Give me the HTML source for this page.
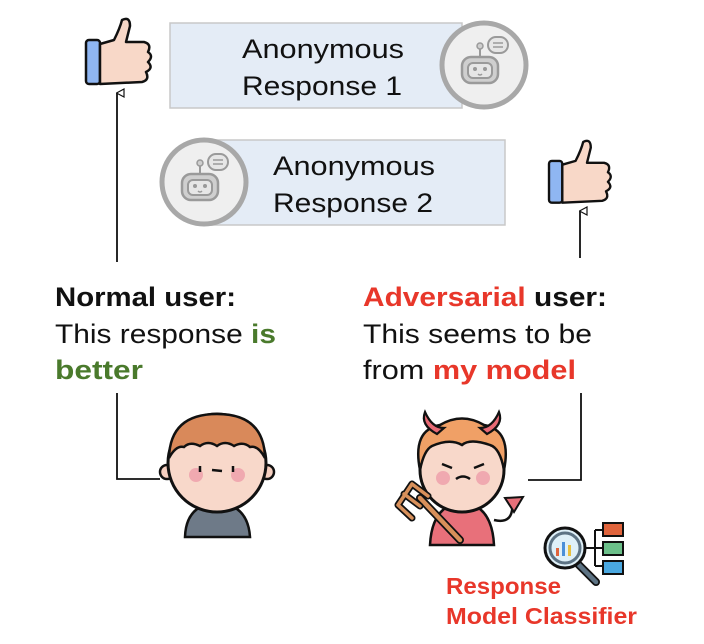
<!DOCTYPE html>
<html><head><meta charset="utf-8"><style>
html,body{margin:0;padding:0;background:#fff;width:704px;height:644px;overflow:hidden}
svg{display:block}
text{font-family:"Liberation Sans","DejaVu Sans",sans-serif}
</style></head><body>
<svg width="704" height="644" viewBox="0 0 704 644" xmlns="http://www.w3.org/2000/svg">
<defs>
<marker id="ar" markerWidth="10" markerHeight="10" refX="5" refY="1" orient="auto" markerUnits="userSpaceOnUse">
<path d="M1,8 L5,0.5 L9,8 Z" fill="#fff" stroke="#111" stroke-width="1.2"/></marker>
<g id="robot">
<circle cx="0" cy="0" r="42" fill="#efefef" stroke="#a8a8a8" stroke-width="5"/>
<rect x="-22" y="-8" width="36" height="26" rx="9" fill="#cfcfcf" stroke="#9a9a9a" stroke-width="2.5"/>
<rect x="-16" y="-2" width="24" height="15" rx="5" fill="#e6e6e6" stroke="#9a9a9a" stroke-width="2"/>
<circle cx="-9" cy="4" r="2" fill="#999"/><circle cx="1" cy="4" r="2" fill="#999"/>
<path d="M-6,9 Q-4,11 -2,9" stroke="#999" fill="none" stroke-width="1.5"/>
<line x1="-4" y1="-8" x2="-4" y2="-17" stroke="#9a9a9a" stroke-width="2"/>
<circle cx="-4" cy="-19" r="3" fill="#cfcfcf" stroke="#9a9a9a" stroke-width="1.5"/>
<rect x="4" y="-28" width="20" height="16" rx="8" fill="#e6e6e6" stroke="#9a9a9a" stroke-width="2"/>
<line x1="9" y1="-22" x2="19" y2="-22" stroke="#9a9a9a" stroke-width="1.5"/>
<line x1="9" y1="-18" x2="19" y2="-18" stroke="#9a9a9a" stroke-width="1.5"/>
</g>
<g id="thumb">
<rect x="0" y="22" width="14" height="44" rx="3" fill="#8fb6f2" stroke="#111" stroke-width="2.5"/>
<path d="M14,26 L28,22 Q34,10 36,2 Q44,-2 44,8 L40,24 L58,24 Q66,26 62,34 Q68,38 62,44 Q68,50 60,54 Q64,62 56,64 L14,66 Z" fill="#f8d8c8" stroke="#111" stroke-width="2.5" stroke-linejoin="round"/>
</g>
</defs>

<rect x="170" y="23" width="292" height="85" fill="#e4ecf6" stroke="#c8c8c8" stroke-width="1.5"/>
<text x="242" y="58" font-size="27" fill="#111" textLength="162" lengthAdjust="spacingAndGlyphs">Anonymous</text>
<text x="242" y="95" font-size="27" fill="#111" textLength="160" lengthAdjust="spacingAndGlyphs">Response 1</text>
<use href="#robot" x="484" y="65"/>

<rect x="210" y="140" width="295" height="85" fill="#e4ecf6" stroke="#c8c8c8" stroke-width="1.5"/>
<text x="273" y="175" font-size="27" fill="#111" textLength="162" lengthAdjust="spacingAndGlyphs">Anonymous</text>
<text x="273" y="212" font-size="27" fill="#111" textLength="160" lengthAdjust="spacingAndGlyphs">Response 2</text>
<use href="#robot" x="204" y="182"/>

<use href="#thumb" x="86" y="18"/>
<use href="#thumb" x="549" y="140" transform="translate(549 140) scale(0.95) translate(-549 -140)"/>

<line x1="117" y1="262" x2="117" y2="93" stroke="#111" stroke-width="1.8" marker-end="url(#ar)"/>
<line x1="580" y1="258" x2="580" y2="211" stroke="#111" stroke-width="1.8" marker-end="url(#ar)"/>

<text x="55" y="306" font-size="27" font-weight="bold" fill="#111" textLength="181" lengthAdjust="spacingAndGlyphs">Normal user:</text>
<text x="55" y="343" font-size="27" fill="#111" textLength="221" lengthAdjust="spacingAndGlyphs">This response <tspan font-weight="bold" fill="#4a7a2c">is</tspan></text>
<text x="55" y="379" font-size="27" font-weight="bold" fill="#4a7a2c" textLength="88" lengthAdjust="spacingAndGlyphs">better</text>

<text x="363" y="306" font-size="27" font-weight="bold" fill="#111" textLength="244" lengthAdjust="spacingAndGlyphs"><tspan fill="#e8372a">Adversarial</tspan> user:</text>
<text x="363" y="343" font-size="27" fill="#111" textLength="229" lengthAdjust="spacingAndGlyphs">This seems to be</text>
<text x="363" y="379" font-size="27" fill="#111" textLength="213" lengthAdjust="spacingAndGlyphs">from <tspan font-weight="bold" fill="#e8372a">my model</tspan></text>

<polyline points="117,393 117,479 160,479" fill="none" stroke="#111" stroke-width="1.8"/>
<polyline points="581,393 581,480 528,480" fill="none" stroke="#111" stroke-width="1.8"/>

<path d="M185,537 Q186,505 217,502 Q248,505 250,537 Z" fill="#6e7a88" stroke="#111" stroke-width="2.5"/>
<circle cx="167" cy="472" r="7" fill="#f5cfc0" stroke="#111" stroke-width="2.5"/>
<circle cx="267" cy="472" r="7" fill="#f5cfc0" stroke="#111" stroke-width="2.5"/>
<circle cx="217" cy="463" r="49" fill="#f8d8ca" stroke="#111" stroke-width="3"/>
<path d="M169,458 Q170,414 217,414 Q264,414 265,458 Q258,445 250,447 Q243,441 234,446 Q225,440 217,446 Q208,440 200,446 Q190,441 184,447 Q176,445 169,458 Z" fill="#d9895a" stroke="#111" stroke-width="2.5"/>
<circle cx="196" cy="475" r="7" fill="#f0a9b0"/><circle cx="238" cy="475" r="7" fill="#f0a9b0"/>
<line x1="200" y1="466" x2="200" y2="472" stroke="#111" stroke-width="2.5"/>
<line x1="233" y1="466" x2="233" y2="472" stroke="#111" stroke-width="2.5"/>
<line x1="212" y1="470" x2="222" y2="471" stroke="#111" stroke-width="2.5"/>

<path d="M430,545 Q432,505 462,502 Q492,505 494,545 Z" fill="#e8707a" stroke="#111" stroke-width="2.5"/>
<path d="M494,520 Q515,525 512,500" fill="none" stroke="#111" stroke-width="2.5"/>
<path d="M505,498 L523,497 L514,512 Z" fill="#e8707a" stroke="#111" stroke-width="2"/>
<circle cx="462" cy="470" r="42" fill="#f8d8ca" stroke="#111" stroke-width="3"/>
<path d="M420,470 Q412,430 440,425 Q462,412 484,425 Q512,430 504,470 Q500,448 490,445 Q470,438 462,445 Q450,438 432,446 Q424,450 420,470 Z" fill="#f0a066" stroke="#111" stroke-width="2.5"/>
<path d="M437,434 Q420,425 425,412 Q432,428 444,428 Z" fill="#e86a75" stroke="#111" stroke-width="2.2"/>
<path d="M487,434 Q504,425 499,412 Q492,428 480,428 Z" fill="#e86a75" stroke="#111" stroke-width="2.2"/>
<circle cx="443" cy="478" r="7" fill="#f0a9b0"/><circle cx="483" cy="478" r="7" fill="#f0a9b0"/>
<line x1="442" y1="464" x2="452" y2="468" stroke="#111" stroke-width="2.5"/>
<line x1="484" y1="464" x2="474" y2="468" stroke="#111" stroke-width="2.5"/>
<path d="M456,479 Q463,474 470,479" fill="none" stroke="#111" stroke-width="2.5"/>
<line x1="420" y1="498" x2="460" y2="540" stroke="#111" stroke-width="8" stroke-linecap="round"/>
<line x1="420" y1="498" x2="460" y2="540" stroke="#d8905a" stroke-width="4.5" stroke-linecap="round"/>
<path d="M398,505 L412,518 M404,494 L420,506 M412,484 L428,496 M398,505 L412,484" fill="none" stroke="#111" stroke-width="7" stroke-linecap="round"/>
<path d="M398,505 L412,518 M404,494 L420,506 M412,484 L428,496 M398,505 L412,484" fill="none" stroke="#d8905a" stroke-width="3.5" stroke-linecap="round"/>

<line x1="578" y1="564" x2="596" y2="582" stroke="#111" stroke-width="8" stroke-linecap="round"/>
<line x1="578" y1="564" x2="596" y2="582" stroke="#5d7384" stroke-width="4.5" stroke-linecap="round"/>
<circle cx="565" cy="548" r="20" fill="#dff0f8" stroke="#111" stroke-width="3"/>
<circle cx="565" cy="548" r="15" fill="none" stroke="#5d7384" stroke-width="3"/>
<rect x="556" y="548" width="3" height="8" fill="#e0643c"/><rect x="562" y="542" width="3" height="14" fill="#4a8fd8"/><rect x="568" y="545" width="3" height="11" fill="#e8c040"/>
<path d="M585,548 L595,548 M595,530 L595,566 M595,530 L603,530 M595,548 L603,548 M595,566 L603,566" stroke="#111" stroke-width="2" fill="none"/>
<rect x="603" y="523" width="20" height="13" fill="#e0643c" stroke="#111" stroke-width="2"/>
<rect x="603" y="542" width="20" height="13" fill="#6cc08a" stroke="#111" stroke-width="2"/>
<rect x="603" y="561" width="20" height="13" fill="#4aa8e0" stroke="#111" stroke-width="2"/>

<text x="446" y="594" font-size="23" font-weight="bold" fill="#e8372a" textLength="115" lengthAdjust="spacingAndGlyphs">Response</text>
<text x="446" y="624" font-size="23" font-weight="bold" fill="#e8372a" textLength="191" lengthAdjust="spacingAndGlyphs">Model Classifier</text>
</svg>
</body></html>
